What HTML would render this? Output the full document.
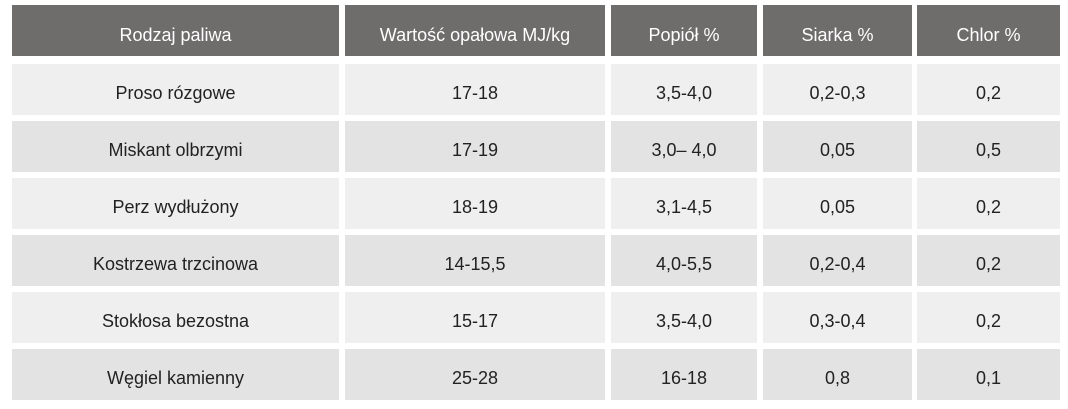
<!DOCTYPE html>
<html><head><meta charset="utf-8"><style>
body{margin:0;width:1068px;height:409px;background:#fff;font-family:"Liberation Sans",sans-serif;position:relative;overflow:hidden}
.c{position:absolute;display:flex;align-items:center;justify-content:center;font-size:18px;color:#222;box-sizing:border-box;padding-top:8px}
.h{background:#6f6c6c;color:#fff;font-size:18px;padding-top:9px}
</style></head><body>
<div id="t"></div>
<script>
const headers=["Rodzaj paliwa","Wartość opałowa MJ/kg","Popiół %","Siarka %","Chlor %"];
const rows=[
["Proso rózgowe","17-18","3,5-4,0","0,2-0,3","0,2"],
["Miskant olbrzymi","17-19","3,0– 4,0","0,05","0,5"],
["Perz wydłużony","18-19","3,1-4,5","0,05","0,2"],
["Kostrzewa trzcinowa","14-15,5","4,0-5,5","0,2-0,4","0,2"],
["Stokłosa bezostna","15-17","3,5-4,0","0,3-0,4","0,2"],
["Węgiel kamienny","25-28","16-18","0,8","0,1"]];
const cx=[[12,339],[345,605],[611,757],[763,912],[917,1060]];
const t=document.getElementById('t');
function cell(x0,x1,y,h,txt,cls,bg){
 const d=document.createElement('div');
 d.className='c '+cls;
 d.style.left=x0+'px';d.style.width=(x1-x0)+'px';d.style.top=y+'px';d.style.height=h+'px';
 if(bg)d.style.background=bg;
 d.textContent=txt;
 
 
 t.appendChild(d);
}
headers.forEach((h,i)=>cell(cx[i][0],cx[i][1],5,51,h,'h'));
rows.forEach((r,ri)=>r.forEach((v,i)=>cell(cx[i][0],cx[i][1],64+ri*57,51,v,'',ri%2?'#e3e3e3':'#efefef')));
</script>
</body></html>
